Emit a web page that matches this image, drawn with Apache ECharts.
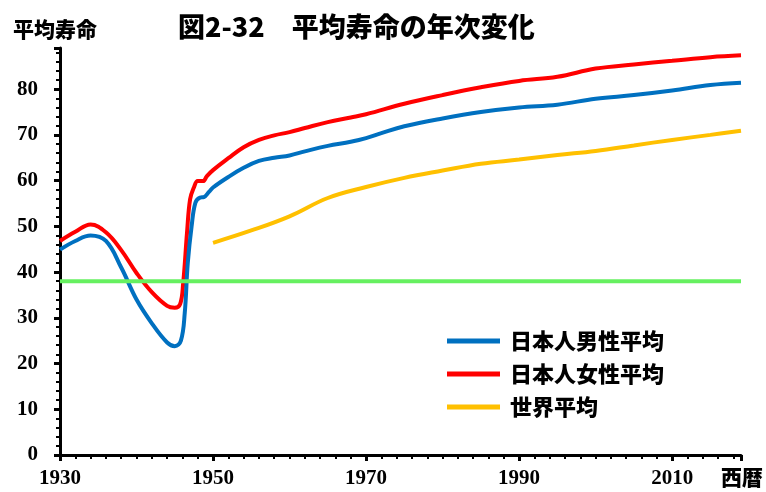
<!DOCTYPE html>
<html>
<head>
<meta charset="utf-8">
<style>
  html, body { margin: 0; padding: 0; background: #fff; }
  #chart { width: 766px; height: 492px; }
</style>
<script src="https://cdn.jsdelivr.net/npm/echarts@6/dist/echarts.min.js"></script>
</head>
<body>
<div id="chart"></div>
<script>
// Life expectancy by year (years of age)
const maleYears = [1930, 1932, 1934, 1936, 1938, 1940, 1942, 1944, 1945, 1945.8, 1946.3, 1946.7, 1947.2, 1947.7, 1948.3, 1948.8, 1949.5, 1950, 1952, 1954, 1956, 1958, 1960, 1962, 1965, 1968, 1970, 1972, 1975, 1980, 1985, 1990, 1995, 2000, 2005, 2010, 2015, 2019];
const maleValues = [44.9, 46.8, 48.0, 46.8, 41.0, 34.0, 28.8, 24.6, 23.8, 25.0, 31.0, 42.0, 50.0, 55.2, 56.3, 56.4, 57.6, 58.5, 60.8, 62.8, 64.3, 65.0, 65.5, 66.4, 67.6, 68.5, 69.3, 70.4, 71.9, 73.6, 75.0, 76.0, 76.6, 77.9, 78.7, 79.7, 80.9, 81.4];

const femaleYears = [1930, 1932, 1934, 1936, 1938, 1940, 1942, 1944, 1945, 1945.7, 1946.1, 1946.6, 1947, 1947.5, 1948, 1948.7, 1949.2, 1950, 1952, 1954, 1956, 1958, 1960, 1962, 1965, 1968, 1970, 1975, 1980, 1985, 1990, 1995, 2000, 2005, 2010, 2015, 2019];
const femaleValues = [46.8, 48.8, 50.4, 48.7, 44.8, 39.8, 35.6, 32.6, 32.2, 33.0, 37.6, 48.6, 55.9, 58.5, 59.9, 59.9, 61.0, 62.3, 64.9, 67.3, 68.9, 69.9, 70.6, 71.5, 72.8, 73.8, 74.5, 76.8, 78.7, 80.4, 81.8, 82.7, 84.5, 85.4, 86.2, 87.0, 87.4];

const worldYears = [1950, 1955, 1960, 1965, 1970, 1975, 1980, 1985, 1990, 1995, 2000, 2005, 2010, 2015, 2019];
const worldValues = [46.4, 49.1, 52.2, 56.2, 58.6, 60.6, 62.2, 63.7, 64.6, 65.6, 66.5, 67.7, 68.9, 70.0, 70.9];

const refYears = [1930, 2019];
const refValues = [38, 38];

const seriesNames = ['日本人男性平均', '日本人女性平均', '世界平均'];
const xTickLabels = [1930, 1950, 1970, 1990, 2010];

const pairs = (xs, ys) => xs.map((x, i) => [x, ys[i]]);

const chart = echarts.init(document.getElementById('chart'), null, { renderer: 'canvas' });

const numFont = { fontFamily: 'Liberation Serif', fontWeight: 'bold', fontSize: 21, color: '#000' };
const jpFont = { fontFamily: 'Noto Sans CJK JP', fontWeight: 900, color: '#000' };

chart.setOption({
  animation: false,
  backgroundColor: '#fff',
  title: [
    { text: '平均寿命', left: 8, top: 14, textStyle: Object.assign({ fontSize: 21 }, jpFont) },
    { text: '図2-32　平均寿命の年次変化', left: 173, top: 8, textStyle: Object.assign({ fontSize: 27 }, jpFont) },
    { text: '西暦', left: 716, top: 462, textStyle: Object.assign({ fontSize: 21 }, jpFont) }
  ],
  legend: {
    data: seriesNames,
    orient: 'vertical',
    left: 442,
    top: 325,
    itemWidth: 53,
    itemHeight: 5,
    itemGap: 11,
    icon: 'rect',
    textStyle: Object.assign({ fontSize: 22, padding: [0, 0, 0, 5] }, jpFont)
  },
  grid: { left: 60, right: 25, top: 48, bottom: 37, containLabel: false },
  xAxis: {
    type: 'value',
    min: 1930,
    max: 2019,
    interval: 20,
    axisLine: { lineStyle: { color: '#000', width: 3 } },
    axisTick: { show: true, inside: false, length: 6, lineStyle: { color: '#000', width: 3 } },
    minorTick: { show: true, splitNumber: 10, length: 4, lineStyle: { color: '#000', width: 2 } },
    splitLine: { show: false },
    axisLabel: Object.assign({
      margin: 13,
      showMaxLabel: false,
      formatter: v => (xTickLabels.indexOf(v) >= 0 ? String(v) : '')
    }, numFont)
  },
  yAxis: {
    type: 'value',
    min: 0,
    max: 89,
    interval: 10,
    axisLine: { show: true, lineStyle: { color: '#000', width: 3 } },
    axisTick: { show: true, inside: false, length: 6, lineStyle: { color: '#000', width: 3 } },
    minorTick: { show: true, splitNumber: 5, length: 4, lineStyle: { color: '#000', width: 2 } },
    splitLine: { show: false },
    axisLabel: Object.assign({ margin: 22, showMaxLabel: false }, numFont)
  },
  series: [
    {
      name: seriesNames[0], type: 'line', data: pairs(maleYears, maleValues),
      smooth: 0.4, showSymbol: false, color: '#0070c0',
      lineStyle: { width: 4, color: '#0070c0' }, z: 3
    },
    {
      name: seriesNames[1], type: 'line', data: pairs(femaleYears, femaleValues),
      smooth: 0.4, showSymbol: false, color: '#ff0000',
      lineStyle: { width: 4, color: '#ff0000' }, z: 2
    },
    {
      name: seriesNames[2], type: 'line', data: pairs(worldYears, worldValues),
      smooth: 0.4, showSymbol: false, color: '#ffc000',
      lineStyle: { width: 4, color: '#ffc000' }, z: 2
    },
    {
      name: 'ref', type: 'line', data: pairs(refYears, refValues),
      showSymbol: false, color: '#66f060',
      lineStyle: { width: 4, color: '#66f060' }, z: 4
    }
  ]
});
</script>
</body>
</html>
